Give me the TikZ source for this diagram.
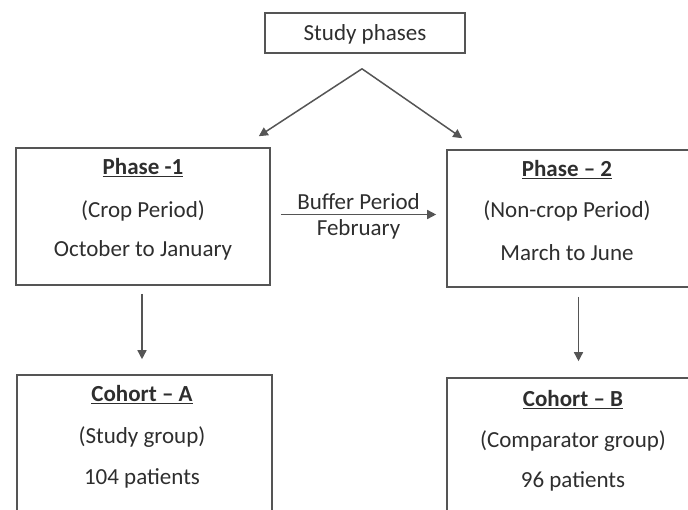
\documentclass[tikz,border=0pt]{standalone}
\usepackage{fontspec}
\setmainfont{Carlito}
\usepackage{xcolor}
\usepackage{tikz}
\usetikzlibrary{arrows.meta, positioning}
\definecolor{kline}{HTML}{555555}
\definecolor{ktext}{HTML}{2E2E2E}

\begin{document}
\begin{tikzpicture}[x=1pt, y=-1pt,
  box/.style={draw=kline, line width=1.6pt, rectangle, inner sep=0pt},
  lbl/.style={font=\fontsize{23}{26}\selectfont, text=ktext, inner sep=0pt},
  arr/.style={draw=kline, line width=1.5pt, -{Triangle[length=9pt, width=9pt]}}]
\useasboundingbox (0,0) rectangle (688,509);
\clip (0,0) rectangle (688,509);
% boxes
\node[box, minimum width=200pt, minimum height=40pt] (sp) at (365,33) {};
\node[box, minimum width=254pt, minimum height=137pt] (ph1) at (143,216.5) {};
\node[box, minimum width=243pt, minimum height=137pt] (ph2) at (568.5,218.5) {};
\node[box, minimum width=255pt, minimum height=150pt] (coa) at (144.5,450) {};
\node[box, minimum width=243pt, minimum height=150pt] (cob) at (568.5,453) {};
% texts
\node[lbl] (spt) at (365,34) {Study phases};
\node[lbl] (ph1a) at (143,168) {\underline{\textbf{Phase -1}}};
\node[lbl] (ph1b) at (143,211) {(Crop Period)};
\node[lbl] (ph1c) at (143,250) {October to January};
\node[lbl] (ph2a) at (567,170) {\underline{\textbf{Phase – 2}}};
\node[lbl] (ph2b) at (567,211) {(Non-crop Period)};
\node[lbl] (ph2c) at (567,253) {March to June};
\node[lbl] (coaa) at (142,395) {\underline{\textbf{Cohort – A}}};
\node[lbl] (coab) at (142,437) {(Study group)};
\node[lbl] (coac) at (142,478) {104 patients};
\node[lbl] (coba) at (573,400) {\underline{\textbf{Cohort – B}}};
\node[lbl] (cobb) at (573,441) {(Comparator group)};
\node[lbl] (cobc) at (573,481) {96 patients};
% connectors
\draw[arr] ([xshift=-3pt, yshift=-15pt]sp.south) -- ([xshift=-12pt, yshift=11pt]ph1.north east);
\draw[arr] ([xshift=-3pt, yshift=-15pt]sp.south) -- ([xshift=16pt, yshift=11pt]ph2.north west);
\draw[arr] ([xshift=10pt, yshift=2pt]ph1.east) -- ([xshift=-10pt, yshift=4pt]ph2.west)
  node[lbl, midway, above=4pt] (buf) {Buffer Period}
  node[lbl, midway, below=4pt] (feb) {February};
\draw[arr] ([xshift=-1pt, yshift=-8pt]ph1.south) -- ([xshift=-2.5pt, yshift=15pt]coa.north);
\draw[arr] ([xshift=10pt, yshift=-9pt]ph2.south) -- ([xshift=10pt, yshift=16pt]cob.north);
\end{tikzpicture}
\end{document}
